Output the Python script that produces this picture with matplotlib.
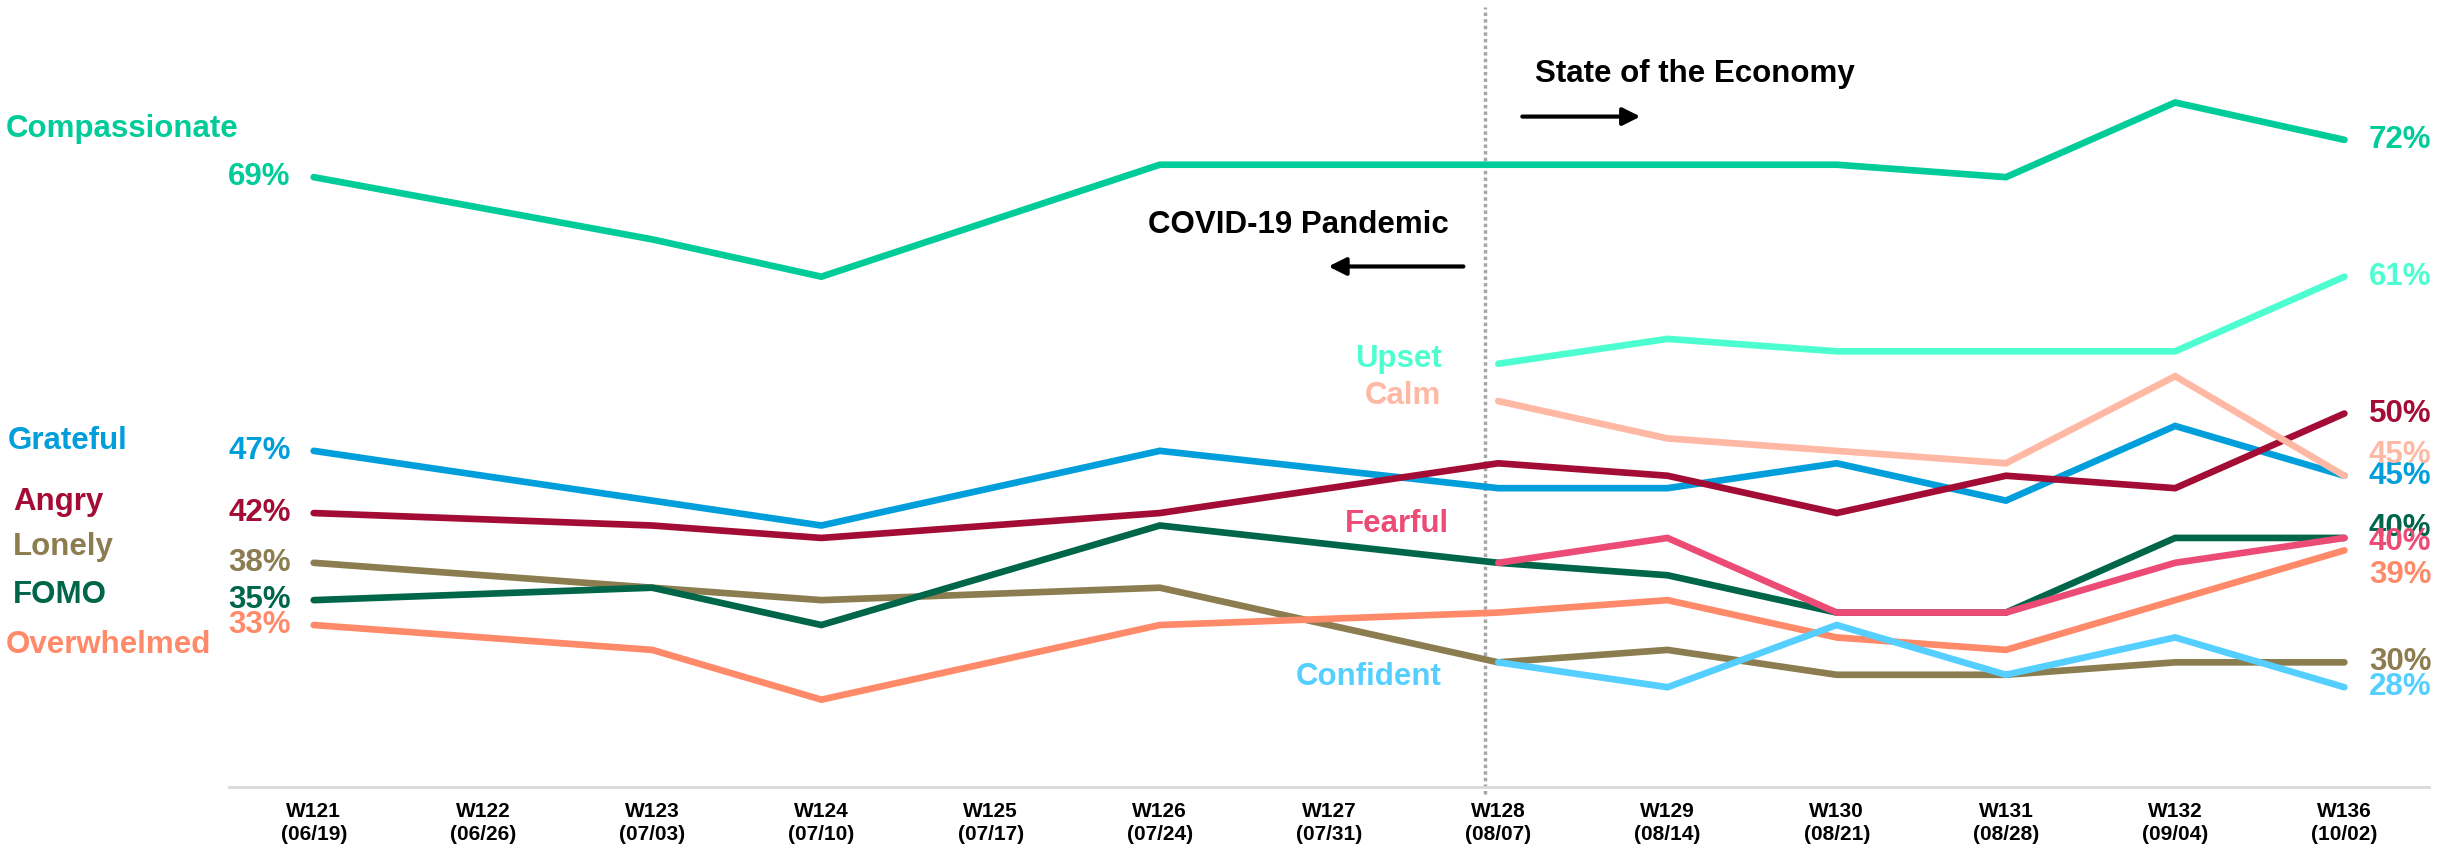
import numpy as np
import matplotlib.pyplot as plt

plt.rcParams['font.family'] = ['Liberation Sans', 'DejaVu Sans']
plt.rcParams['font.weight'] = 'bold'

# weekly survey waves
weeks = ["W121", "W122", "W123", "W124", "W125", "W126", "W127",
         "W128", "W129", "W130", "W131", "W132", "W136"]
dates = ["06/19", "06/26", "07/03", "07/10", "07/17", "07/24", "07/31",
         "08/07", "08/14", "08/21", "08/28", "09/04", "10/02"]

# % of respondents feeling each emotion (None = not asked that week)
compassionate = [69, None, 64, 61, None, 70, None, 70, 70, 70, 69, 75, 72]
grateful = [47, None, 43, 41, None, 47, None, 44, 44, 46, 43, 49, 45]
angry = [42, None, 41, 40, None, 42, None, 46, 45, 42, 45, 44, 50]
lonely = [38, None, 36, 35, None, 36, None, 30, 31, 29, 29, 30, 30]
fomo = [35, None, 36, 33, None, 41, None, 38, 37, 34, 34, 40, 40]
overwhelmed = [33, None, 31, 27, None, 33, None, 34, 35, 32, 31, 35, 39]
upset = [None] * 7 + [54, 56, 55, 55, 55, 61]
calm = [None] * 7 + [51, 48, 47, 46, 53, 45]
fearful = [None] * 7 + [38, 40, 34, 34, 38, 40]
confident = [None] * 7 + [30, 28, 33, 29, 32, 28]

series = {
    "Compassionate": (compassionate, "#00CC99"),
    "Grateful": (grateful, "#009FDB"),
    "Angry": (angry, "#A30D35"),
    "Lonely": (lonely, "#8B7D50"),
    "FOMO": (fomo, "#00664A"),
    "Overwhelmed": (overwhelmed, "#FF8A6A"),
    "Upset": (upset, "#4DFFD0"),
    "Calm": (calm, "#FFB8A3"),
    "Fearful": (fearful, "#EC4B75"),
    "Confident": (confident, "#55CFFF"),
}

W, H = 2458, 851
fig = plt.figure(figsize=(W / 100, H / 100), dpi=100)
ax = fig.add_axes([0.0932, 0.0755, 0.895, 0.9245])
ax.set_xlim(-0.5, 12.5)
ax.set_ylim(20, 83.24)

x = np.arange(len(weeks))
for name, (vals, color) in series.items():
    y = np.array([np.nan if v is None else v for v in vals], dtype=float)
    m = ~np.isnan(y)
    ax.plot(x[m], y[m], color=color, lw=4.8, solid_capstyle='round',
            solid_joinstyle='miter', zorder=3)

# value labels at the ends
right_nudge = {"Calm": 1.7, "FOMO": 0.8, "Fearful": -0.3, "Overwhelmed": -2.0}
for name, (vals, color) in series.items():
    if vals[0] is not None:
        ax.text(-0.136, vals[0], f"{vals[0]}%", color=color, fontsize=22.5,
                ha='right', va='center', fontweight='bold')
    last = vals[-1]
    ax.text(12.145, last + right_nudge.get(name, 0), f"{last}%", color=color,
            fontsize=22.5, ha='left', va='center', fontweight='bold',
            clip_on=False, zorder=4)

# series names on the left (figure pixels)
left_names = {"Compassionate": (6, 129), "Grateful": (8, 441), "Angry": (13, 502),
              "Lonely": (13, 547), "FOMO": (13, 595), "Overwhelmed": (6, 645)}
for name, (px, py) in left_names.items():
    fig.text(px / W, 1 - py / H, name, color=series[name][1], fontsize=22.5,
             ha='left', va='center', fontweight='bold')

# names of the series that start at W128
mid_names = {"Upset": (6.664, 54.4), "Calm": (6.664, 51.4),
             "Fearful": (6.71, 41.1), "Confident": (6.664, 28.8)}
for name, (tx, ty) in mid_names.items():
    ax.text(tx, ty, name, color=series[name][1], fontsize=22.5,
            ha='right', va='center', fontweight='bold')

# divider between the two question blocks
ax.plot([6.924, 6.924], [19.4, 82.7], color='#A6A6A6', lw=2.5,
        linestyle=(0, (1, 0.9)), clip_on=False, zorder=2)

ax.text(7.219, 77.33, "State of the Economy", fontsize=22.5, ha='left',
        va='center', fontweight='bold', color='black')
ax.annotate("", xy=(7.84, 73.87), xytext=(7.142, 73.87),
            arrowprops=dict(arrowstyle='-|>,head_length=0.7,head_width=0.35',
                            mutation_scale=15, lw=3, color='black',
                            shrinkA=0, shrinkB=0))
ax.text(6.705, 65.19, "COVID-19 Pandemic", fontsize=22.5, ha='right',
        va='center', fontweight='bold', color='black')
ax.annotate("", xy=(5.996, 61.82), xytext=(6.794, 61.82),
            arrowprops=dict(arrowstyle='-|>,head_length=0.7,head_width=0.35',
                            mutation_scale=15, lw=3, color='black',
                            shrinkA=0, shrinkB=0))

ax.set_xticks(x)
ax.set_xticklabels([f"{w}\n({d})" for w, d in zip(weeks, dates)],
                   fontsize=15, fontweight='bold', linespacing=1.25)
ax.tick_params(axis='x', length=0, pad=11)
ax.set_yticks([])
for s in ['top', 'right', 'left']:
    ax.spines[s].set_visible(False)
ax.spines['bottom'].set_color('#D9D9D9')
ax.spines['bottom'].set_linewidth(2)

fig.savefig("out.png", dpi=100)
